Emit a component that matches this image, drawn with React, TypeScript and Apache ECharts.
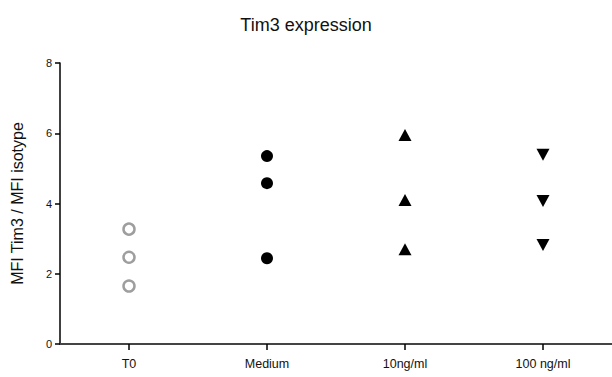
import React, { useEffect, useRef } from "react";
import * as echarts from "echarts";

const categories = ["T0", "Medium", "10ng/ml", "100 ng/ml"];
const t0Values = [3.27, 2.47, 1.65];
const mediumValues = [5.35, 4.58, 2.44];
const tenValues = [5.95, 4.1, 2.7];
const hundredValues = [5.39, 4.07, 2.82];
const yTicks = [0, 2, 4, 6, 8];

const FONT = "Liberation Sans, Arial, sans-serif";

export default function App() {
  const ref = useRef<HTMLDivElement>(null);
  useEffect(() => {
    if (!ref.current) return;
    const chart = echarts.init(ref.current, null, { renderer: "svg" });
    const toData = (cat: string, vals: number[]) => vals.map((v) => [cat, v]);
    chart.setOption({
      animation: false,
      backgroundColor: "#fff",
      title: {
        text: "Tim3 expression",
        left: "center",
        top: 11,
        textStyle: { fontFamily: FONT, fontSize: 18, fontWeight: "normal", color: "#111" },
      },
      grid: { left: 60, right: -4, top: 63, bottom: 33, containLabel: false },
      xAxis: {
        type: "category",
        data: categories,
        boundaryGap: true,
        axisLine: { show: true, lineStyle: { color: "#444", width: 2 } },
        axisTick: { show: true, alignWithLabel: true, length: 6, lineStyle: { color: "#000", width: 1.5 } },
        axisLabel: { fontFamily: FONT, fontSize: 12.5, color: "#111", margin: 13 },
        splitLine: { show: false },
      },
      yAxis: {
        type: "value",
        min: yTicks[0],
        max: yTicks[yTicks.length - 1],
        interval: 2,
        name: "MFI Tim3 / MFI isotype",
        nameLocation: "middle",
        nameGap: 35,
        nameTextStyle: { fontFamily: FONT, fontSize: 16, color: "#111" },
        axisLine: { show: true, lineStyle: { color: "#000", width: 1.5 } },
        axisTick: { show: true, length: 5, lineStyle: { color: "#000", width: 1.5 } },
        axisLabel: { fontFamily: FONT, fontSize: 11, color: "#111", margin: 8 },
        splitLine: { show: false },
      },
      series: [
        {
          type: "scatter",
          data: toData(categories[0], t0Values),
          symbol: "circle",
          symbolSize: 11,
          itemStyle: { color: "#fff", borderColor: "#9e9e9e", borderWidth: 2.5, opacity: 1 },
        },
        {
          type: "scatter",
          data: toData(categories[1], mediumValues),
          symbol: "circle",
          symbolSize: 12,
          itemStyle: { color: "#000", opacity: 1 },
        },
        {
          type: "scatter",
          data: toData(categories[2], tenValues),
          symbol: "triangle",
          symbolSize: [13, 12],
          itemStyle: { color: "#000", opacity: 1 },
        },
        {
          type: "scatter",
          data: toData(categories[3], hundredValues),
          symbol: "triangle",
          symbolRotate: 180,
          symbolSize: [13, 12],
          itemStyle: { color: "#000", opacity: 1 },
        },
      ],
    });
    return () => chart.dispose();
  }, []);
  return <div ref={ref} style={{ width: 612, height: 377, position: "absolute", left: 0, top: 0 }} />;
}
